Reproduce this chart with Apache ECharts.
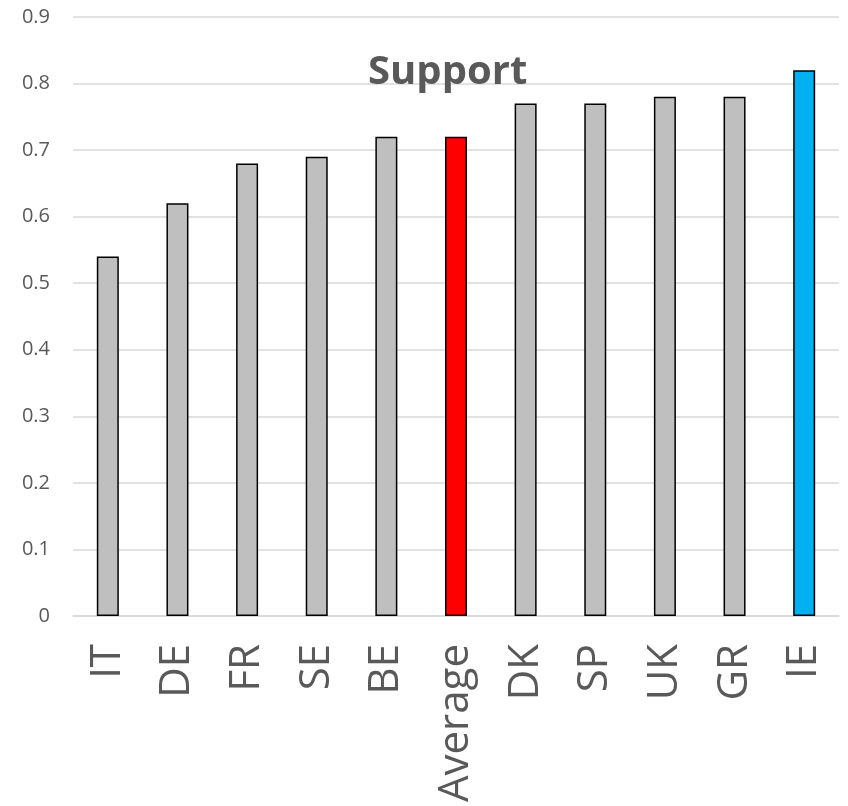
<!DOCTYPE html>
<html>
<head>
<meta charset="utf-8">
<script src="https://cdn.jsdelivr.net/npm/echarts@6/dist/echarts.min.js"></script>
<style>
  html, body { margin: 0; padding: 0; background: #fff; }
  #chart { width: 848px; height: 806px; }
</style>
</head>
<body>
<div id="chart"></div>
<script>
// Support share by country, sorted ascending, with the overall average
const categories = ['IT', 'DE', 'FR', 'SE', 'BE', 'Average', 'DK', 'SP', 'UK', 'GR', 'IE'];
const supportValues = [0.54, 0.62, 0.68, 0.69, 0.72, 0.72, 0.77, 0.77, 0.78, 0.78, 0.82];
const yTicks = [0, 0.1, 0.2, 0.3, 0.4, 0.5, 0.6, 0.7, 0.8, 0.9];

const barColor = (name) => name === 'Average' ? '#FF0000' : (name === 'IE' ? '#00B0F0' : '#BFBFBF');

const chart = echarts.init(document.getElementById('chart'));
chart.setOption({
  animation: false,
  backgroundColor: '#ffffff',
  title: {
    text: 'Support',
    left: 363,
    top: 48,
    textStyle: {
      fontFamily: 'Open Sans',
      fontWeight: 'bold',
      fontSize: 40,
      color: '#595959'
    }
  },
  grid: { left: 73, right: 9, top: 17, bottom: 190 },
  xAxis: {
    type: 'category',
    data: categories,
    axisLine: { lineStyle: { color: '#D9D9D9', width: 1.5 } },
    axisTick: { show: false },
    axisLabel: {
      rotate: 90,
      margin: 28,
      fontFamily: 'Open Sans',
      fontSize: 42,
      color: '#595959'
    }
  },
  yAxis: {
    type: 'value',
    min: yTicks[0],
    max: yTicks[yTicks.length - 1],
    interval: 0.1,
    axisLine: { show: false },
    axisTick: { show: false },
    splitLine: { lineStyle: { color: '#D9D9D9', width: 1.5 } },
    axisLabel: {
      margin: 23,
      fontFamily: 'Open Sans',
      fontSize: 20,
      color: '#595959',
      formatter: (v) => String(Math.round(v * 10) / 10)
    }
  },
  series: [{
    type: 'bar',
    barWidth: 22,
    data: supportValues.map((v, i) => ({
      value: v,
      itemStyle: { color: barColor(categories[i]) }
    })),
    itemStyle: { borderColor: '#000000', borderWidth: 1.5 }
  }]
});
</script>
</body>
</html>
